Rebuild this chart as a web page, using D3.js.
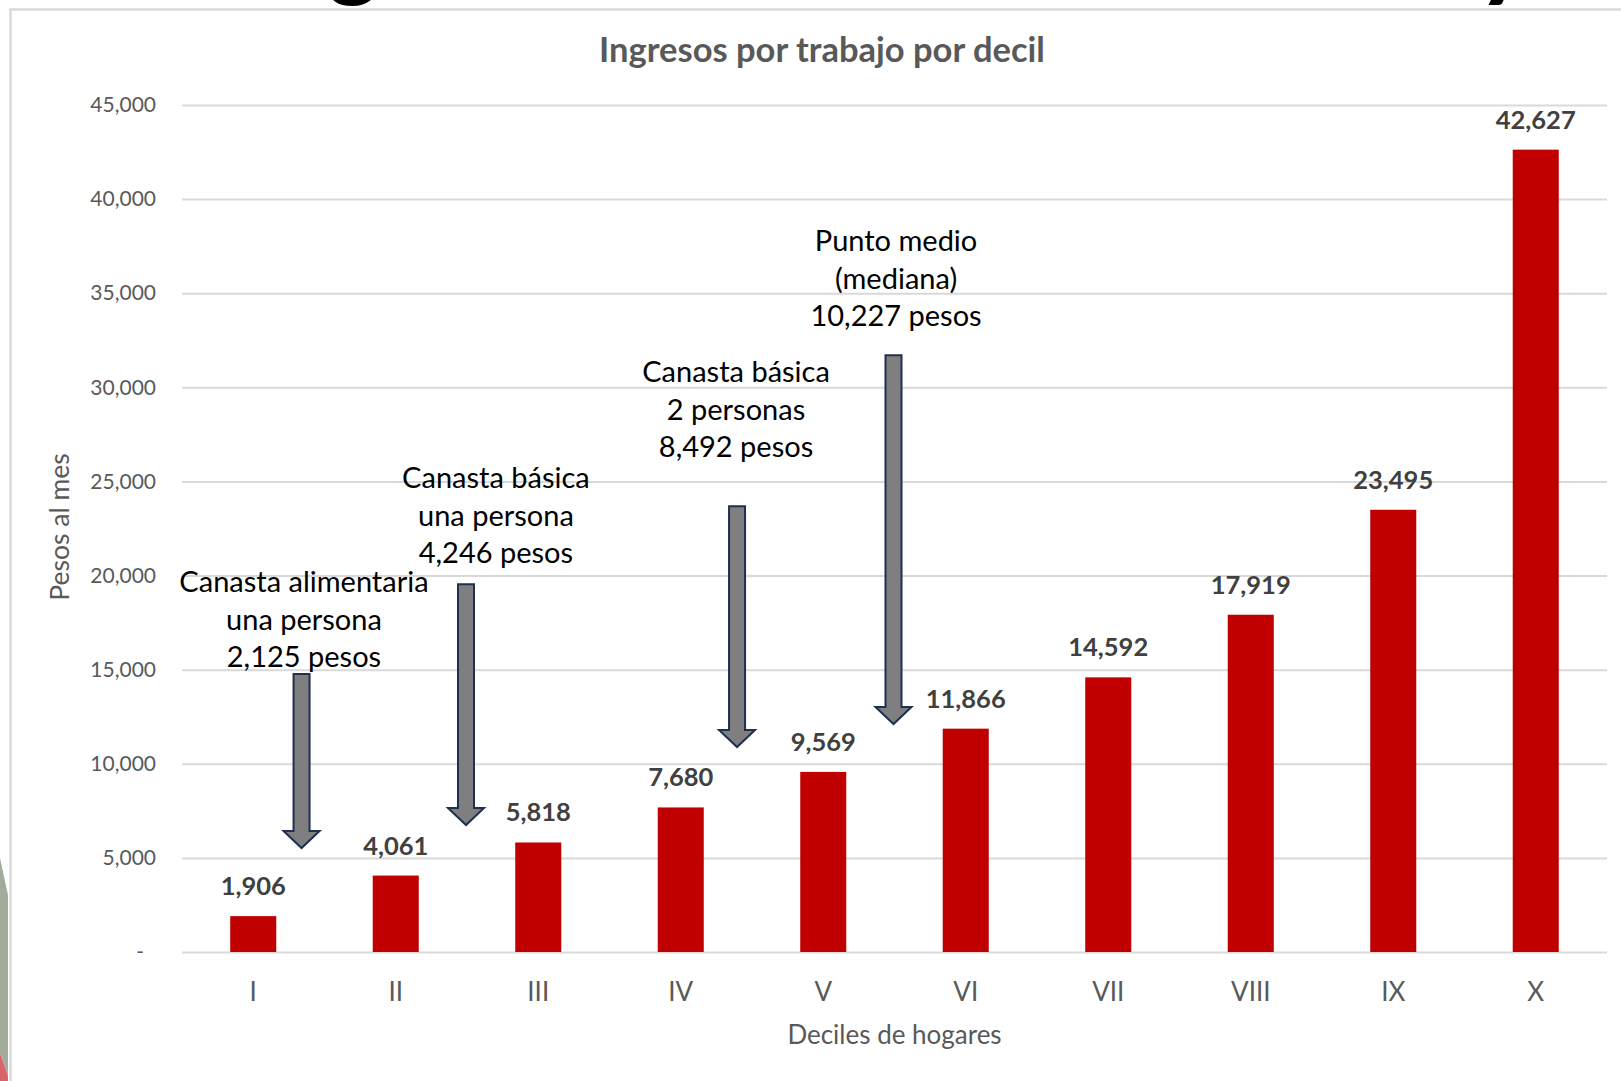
<!DOCTYPE html>
<html>
<head>
<meta charset="utf-8">
<script src="https://cdn.jsdelivr.net/npm/d3@7"></script>
<style>
  html, body { margin: 0; padding: 0; background: #fff; }
  svg { display: block; font-family: Lato, "Open Sans", sans-serif; }
</style>
</head>
<body>
<svg id="chart"></svg>
<script>
// data
const deciles = ["I", "II", "III", "IV", "V", "VI", "VII", "VIII", "IX", "X"];
const ingresos = [1906, 4061, 5818, 7680, 9569, 11866, 14592, 17919, 23495, 42627];
const yTicks = [0, 5000, 10000, 15000, 20000, 25000, 30000, 35000, 40000, 45000];

// annotations: text lines, text position (category index, value), arrow (index, top value, tip value)
const notaTextos = [
  ["Canasta alimentaria", "una persona", "2,125 pesos"],
  ["Canasta básica", "una persona", "4,246 pesos"],
  ["Canasta básica", "2 personas", "8,492 pesos"],
  ["Punto medio", "(mediana)", "10,227 pesos"]
];
const notaTextoIdx = [0.356, 1.703, 3.388, 4.511];
const notaTextoValor = [19173, 24696, 30326, 37283];
const flechaIdx = [0.339, 1.493, 3.395, 4.493];
const flechaInicio = [14765, 19544, 23687, 31707];
const flechaPunta = [5523, 6745, 10887, 12109];

const W = 1621, H = 1081;
const margin = { top: 105, right: 14, bottom: 129, left: 182 };
const width = W - margin.left - margin.right;
const height = H - margin.top - margin.bottom;

const svg = d3.select("#chart")
  .attr("width", W)
  .attr("height", H);

svg.append("rect").attr("width", W).attr("height", H).attr("fill", "#fff");

// cut off heading from the slide above the chart
svg.append("clipPath").attr("id", "topclip")
  .append("rect").attr("x", 0).attr("y", 0).attr("width", W).attr("height", 8);
const cabecera = svg.append("g").attr("clip-path", "url(#topclip)")
  .style("font-weight", 900).style("font-size", "96px").attr("fill", "#000");
cabecera.append("text").attr("x", 328).attr("y", -11).text("g");
cabecera.append("text").attr("x", 1478).attr("y", -11).text("y");

// slide decoration at the left edge
svg.append("path").attr("d", "M0,858 L8,895 L8,1076 L0,1053 Z").attr("fill", "#a1ad9a");
svg.append("path").attr("d", "M0,1053 L8,1076 L8,1081 L0,1081 Z").attr("fill", "#d9646b");

// chart frame
svg.append("path")
  .attr("d", "M10.5," + H + " L10.5,9.5 L" + W + ",9.5")
  .attr("fill", "none")
  .attr("stroke", "#d9d9d9")
  .attr("stroke-width", 2.5);

const g = svg.append("g")
  .attr("transform", "translate(" + margin.left + "," + margin.top + ")");

const x = d3.scaleBand()
  .domain(deciles)
  .range([0, width])
  .paddingInner(0.677)
  .paddingOuter(0.3385);

const y = d3.scaleLinear()
  .domain([0, 45000])
  .range([height, 0]);

// position along the category axis from a fractional index
const step = x.step();
const xi = i => x(deciles[0]) + x.bandwidth() / 2 + i * step;

// gridlines + y labels
const yAxis = g.append("g")
  .call(d3.axisLeft(y).tickValues(yTicks).tickSize(-width).tickPadding(26)
    .tickFormat(d => d === 0 ? "-" : d3.format(",")(d)));
yAxis.select(".domain").remove();
yAxis.selectAll(".tick line").attr("stroke", "#d9d9d9").attr("stroke-width", 2);
yAxis.selectAll(".tick text")
  .attr("fill", "#595959")
  .style("font-size", "21px")
  .style("font-family", "Lato");
yAxis.selectAll(".tick text").filter(d => d === 0).attr("dx", -12);

// x labels
const xAxis = g.append("g")
  .attr("transform", "translate(0," + height + ")")
  .call(d3.axisBottom(x).tickSize(0).tickPadding(31));
xAxis.select(".domain").remove();
xAxis.selectAll(".tick text")
  .attr("fill", "#595959")
  .style("font-size", "26px")
  .style("font-family", "Lato");

// bars
g.selectAll(".bar")
  .data(ingresos)
  .join("rect")
  .attr("class", "bar")
  .attr("x", (d, i) => x(deciles[i]))
  .attr("y", d => y(d))
  .attr("width", x.bandwidth())
  .attr("height", d => height - y(d))
  .attr("fill", "#c00000");

// value labels
g.selectAll(".val")
  .data(ingresos)
  .join("text")
  .attr("class", "val")
  .attr("x", (d, i) => x(deciles[i]) + x.bandwidth() / 2)
  .attr("y", d => y(d) - 21)
  .attr("text-anchor", "middle")
  .attr("fill", "#404040")
  .style("font-weight", 700)
  .style("font-size", "25.5px")
  .text(d3.format(","));

// axis titles
svg.append("text")
  .attr("x", margin.left + width / 2)
  .attr("y", 1044)
  .attr("text-anchor", "middle")
  .attr("fill", "#595959")
  .style("font-size", "26px")
  .text("Deciles de hogares");

svg.append("text")
  .attr("transform", "translate(69,527) rotate(-90)")
  .attr("text-anchor", "middle")
  .attr("fill", "#595959")
  .style("font-size", "26.5px")
  .text("Pesos al mes");

// title
svg.append("text")
  .attr("x", 822)
  .attr("y", 62)
  .attr("text-anchor", "middle")
  .attr("fill", "#595959")
  .style("font-weight", 700)
  .style("font-size", "34.5px")
  .text("Ingresos por trabajo por decil");

// arrows
const shaft = 16, head = 36, headLen = 17;
flechaIdx.forEach((fi, i) => {
  const cx = xi(fi), y0 = y(flechaInicio[i]), y1 = y(flechaPunta[i]);
  const hb = y1 - headLen;
  const pts = [
    [cx - shaft / 2, y0], [cx + shaft / 2, y0], [cx + shaft / 2, hb],
    [cx + head / 2, hb], [cx, y1], [cx - head / 2, hb], [cx - shaft / 2, hb]
  ];
  g.append("path")
    .attr("d", d3.line()(pts) + "Z")
    .attr("fill", "#7f7f7f")
    .attr("stroke", "#1f3050")
    .attr("stroke-width", 2)
    .attr("stroke-linejoin", "miter");
});

// annotation texts
notaTextos.forEach((lines, i) => {
  const t = g.append("text")
    .attr("x", xi(notaTextoIdx[i]))
    .attr("y", y(notaTextoValor[i]) + 1)
    .attr("text-anchor", "middle")
    .attr("fill", "#000")
    .style("font-size", "29px");
  lines.forEach((l, j) => {
    t.append("tspan")
      .attr("x", xi(notaTextoIdx[i]))
      .attr("dy", j === 0 ? 0 : 37.5)
      .text(l);
  });
});
</script>
</body>
</html>
